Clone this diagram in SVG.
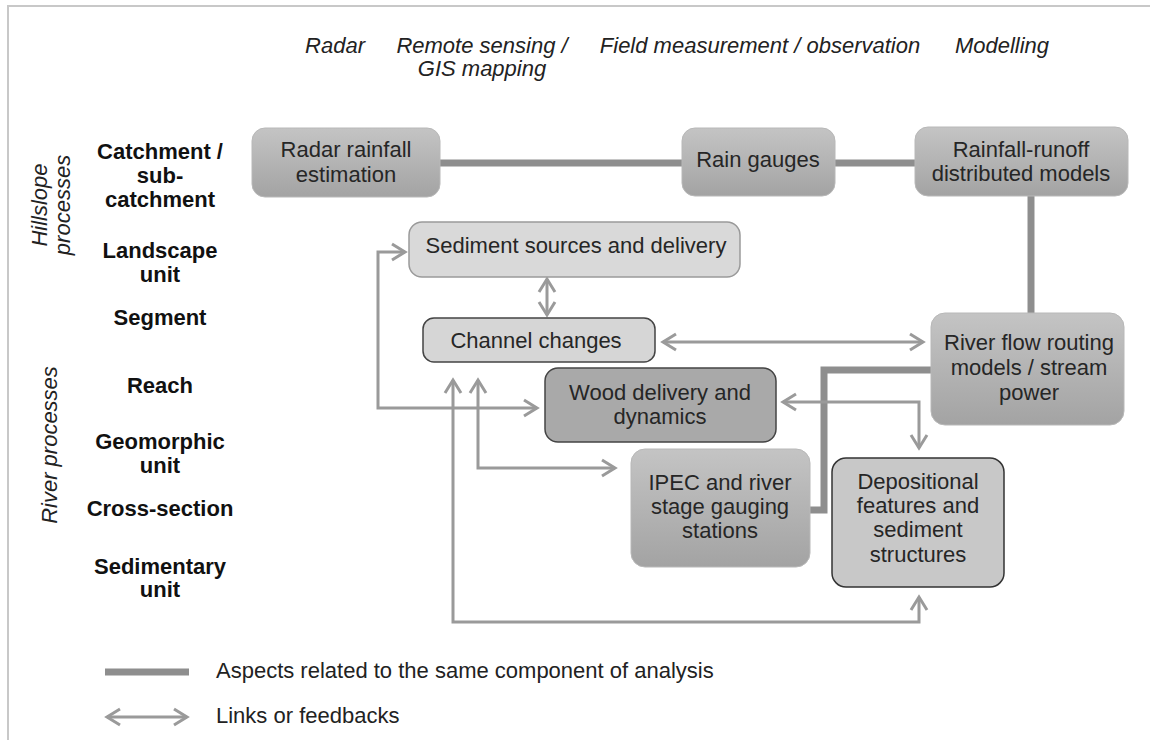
<svg xmlns="http://www.w3.org/2000/svg" width="1150" height="740" viewBox="0 0 1150 740">
<defs>
<linearGradient id="gDark" x1="0" y1="0" x2="0" y2="1">
<stop offset="0" stop-color="#c4c4c4"/>
<stop offset="1" stop-color="#a3a3a3"/>
</linearGradient>
<marker id="ah" markerUnits="userSpaceOnUse" markerWidth="20" markerHeight="20" refX="15" refY="10" orient="auto-start-reverse" overflow="visible">
<path d="M2,2 L15,10 L2,18" fill="none" stroke="#9a9a9a" stroke-width="3"/>
</marker>
</defs>
<style>
text{font-family:"Liberation Sans",Arial,sans-serif;font-size:22px;}
.hdr{font-style:italic;fill:#222;text-anchor:middle;}
.lvl{font-weight:bold;fill:#111;text-anchor:middle;}
.rot{font-style:italic;fill:#222;text-anchor:middle;}
.bt{fill:#262626;text-anchor:middle;}
.dark{fill:url(#gDark);stroke:#b8b8b8;stroke-width:1;}
.thick{fill:none;stroke:#8e8e8e;stroke-width:7;}
.link{fill:none;stroke:#9a9a9a;stroke-width:3;marker-start:url(#ah);marker-end:url(#ah);}
.leg{fill:#222;}
</style>
<rect width="1150" height="740" fill="#ffffff"/>
<path d="M8,740 L8,6 L1150,6" fill="none" stroke="#c8c8c8" stroke-width="2"/>

<g id="headers">
<text class="hdr" x="335" y="53">Radar</text>
<text class="hdr" x="482" y="53">Remote sensing /</text>
<text class="hdr" x="482" y="76">GIS mapping</text>
<text class="hdr" x="760" y="53">Field measurement / observation</text>
<text class="hdr" x="1002" y="53">Modelling</text>
</g>

<g id="scale-labels">
<text class="lvl" x="160" y="159">Catchment /</text>
<text class="lvl" x="160" y="183">sub-</text>
<text class="lvl" x="160" y="207">catchment</text>
<text class="lvl" x="160" y="258">Landscape</text>
<text class="lvl" x="160" y="282">unit</text>
<text class="lvl" x="160" y="325">Segment</text>
<text class="lvl" x="160" y="393">Reach</text>
<text class="lvl" x="160" y="449">Geomorphic</text>
<text class="lvl" x="160" y="473">unit</text>
<text class="lvl" x="160" y="516">Cross-section</text>
<text class="lvl" x="160" y="574">Sedimentary</text>
<text class="lvl" x="160" y="597">unit</text>
<text class="rot" transform="translate(47,205) rotate(-90)">Hillslope</text>
<text class="rot" transform="translate(70,205) rotate(-90)">processes</text>
<text class="rot" transform="translate(57,445) rotate(-90)">River processes</text>
</g>

<g id="connectors">
<line class="thick" x1="440" y1="163" x2="682" y2="163"/>
<line class="thick" x1="835" y1="163" x2="915" y2="163"/>
<line class="thick" x1="1031" y1="196" x2="1031" y2="313"/>
<path class="thick" d="M810,510 L824,510 L824,370 L931,370"/>
<path class="link" d="M405,252 L378,252 L378,408 L537,408"/>
<line class="link" x1="547" y1="279" x2="547" y2="315"/>
<line class="link" x1="663" y1="342" x2="923" y2="342"/>
<path class="link" d="M453,380 L453,622 L919,622 L919,597"/>
<path class="link" d="M478,380 L478,468 L615,468"/>
<path class="link" d="M783,402 L919,402 L919,448"/>
</g>

<g id="node-radar">
<rect class="dark" x="252" y="128" width="188" height="69" rx="13"/>
<text class="bt" x="346" y="157">Radar rainfall</text>
<text class="bt" x="346" y="182">estimation</text>
</g>
<g id="node-raingauges">
<rect class="dark" x="682" y="128" width="153" height="68" rx="13"/>
<text class="bt" x="758" y="167">Rain gauges</text>
</g>
<g id="node-rainfallrunoff">
<rect class="dark" x="915" y="127" width="213" height="69" rx="13"/>
<text class="bt" x="1021" y="157">Rainfall-runoff</text>
<text class="bt" x="1021" y="181">distributed models</text>
</g>
<g id="node-sediment">
<rect x="409" y="222" width="331" height="55" rx="13" fill="#d9d9d9" stroke="#9a9a9a" stroke-width="1.5"/>
<text class="bt" x="576" y="253">Sediment sources and delivery</text>
</g>
<g id="node-channel">
<rect x="423" y="318" width="232" height="44" rx="11" fill="#d6d6d6" stroke="#444" stroke-width="1.5"/>
<text class="bt" x="536" y="348">Channel changes</text>
</g>
<g id="node-riverflow">
<rect class="dark" x="931" y="313" width="193" height="112" rx="14"/>
<text class="bt" x="1029" y="350">River flow routing</text>
<text class="bt" x="1029" y="375">models / stream</text>
<text class="bt" x="1029" y="400">power</text>
</g>
<g id="node-wood">
<rect x="545" y="368" width="231" height="74" rx="13" fill="#a9a9a9" stroke="#444" stroke-width="1.5"/>
<text class="bt" x="660" y="400">Wood delivery and</text>
<text class="bt" x="660" y="424">dynamics</text>
</g>
<g id="node-ipec">
<rect class="dark" x="631" y="449" width="179" height="118" rx="14"/>
<text class="bt" x="720" y="490">IPEC and river</text>
<text class="bt" x="720" y="514">stage gauging</text>
<text class="bt" x="720" y="538">stations</text>
</g>
<g id="node-depositional">
<rect x="832" y="458" width="172" height="129" rx="14" fill="#c8c8c8" stroke="#333" stroke-width="1.5"/>
<text class="bt" x="918" y="489">Depositional</text>
<text class="bt" x="918" y="513">features and</text>
<text class="bt" x="918" y="537">sediment</text>
<text class="bt" x="918" y="562">structures</text>
</g>

<g id="legend">
<line class="thick" x1="105" y1="672" x2="189" y2="672"/>
<text class="leg" x="216" y="678">Aspects related to the same component of analysis</text>
<line class="link" x1="107" y1="717" x2="187" y2="717"/>
<text class="leg" x="216" y="723">Links or feedbacks</text>
</g>
</svg>
